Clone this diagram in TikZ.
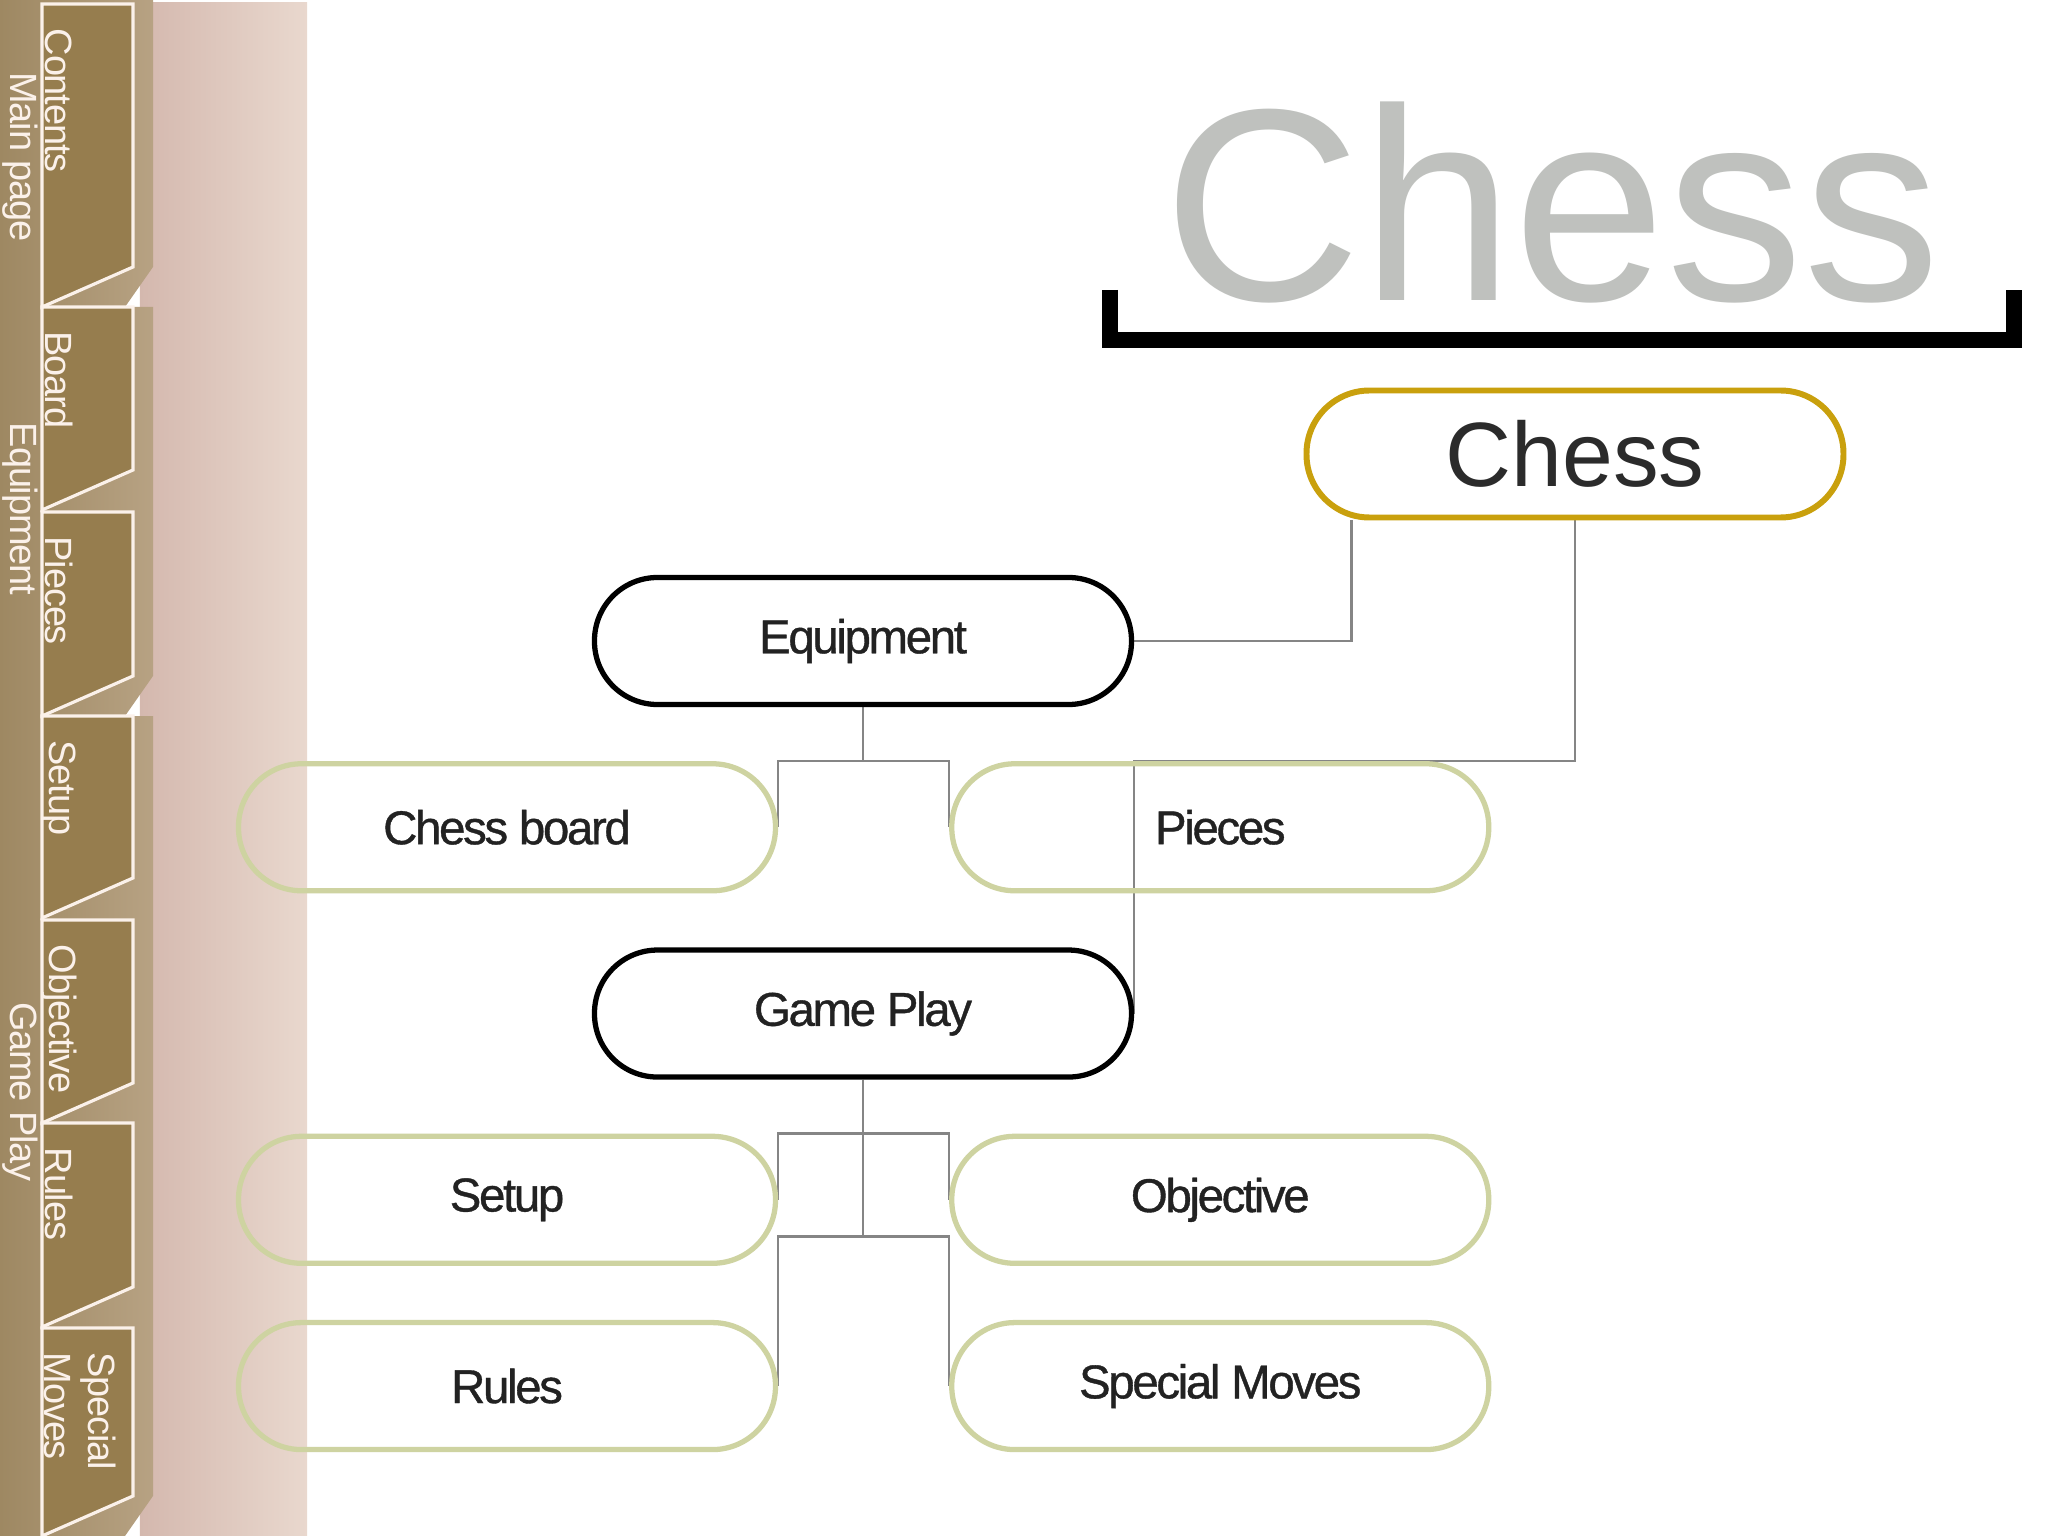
\documentclass[tikz,border=0pt]{standalone}
\usepackage{fontspec}
\setmainfont{Liberation Sans}
\newfontfamily\tightfont[LetterSpace=-5,FakeBold=0.8]{Liberation Sans}
\newfontfamily\tabfont[LetterSpace=-3]{Liberation Sans}
\usepackage{xcolor}
\usepackage{tikz}
\usetikzlibrary{positioning,calc}

\definecolor{titlegray}{HTML}{BFC1BE}
\definecolor{roottext}{HTML}{2B2B2B}
\definecolor{labeltext}{HTML}{222222}
\definecolor{rootgold}{HTML}{C9A00D}
\definecolor{leafgreen}{HTML}{CED3A1}
\definecolor{linkgray}{HTML}{858585}
\definecolor{pinkleft}{HTML}{D4B8AE}
\definecolor{pinkright}{HTML}{E9D8CE}
\definecolor{grpleft}{HTML}{9E8862}
\definecolor{grpright}{HTML}{B7A283}
\definecolor{tabbrown}{HTML}{967D4E}
\definecolor{tabcream}{HTML}{FBF1EA}

\pgfdeclarelayer{bg}
\pgfdeclarelayer{links}
\pgfsetlayers{bg,links,main}

\begin{document}
\begin{tikzpicture}[
  node distance=5.4mm and 17.1mm,
  topicnode/.style={draw=black,line width=1.5pt,rounded corners=6.3mm,minimum width=5.37cm,minimum height=1.27cm,inner sep=0pt,font=\tightfont\fontsize{13.5}{16}\selectfont,text=labeltext},
  leafnode/.style={topicnode,draw=leafgreen},
  rootnode/.style={topicnode,draw=rootgold,line width=1.7pt,font=\fontsize{26}{30}\selectfont,text=roottext},
  linkline/.style={draw=linkgray,line width=0.7pt},
  tablabel/.style={rotate=-90,anchor=west,inner sep=0pt,align=left,text=tabcream,font=\tabfont\fontsize{10.8}{12.5}\selectfont}
]
\useasboundingbox (0,0) rectangle (20.48,-15.36);

\node[font=\fontsize{78}{88}\selectfont,text=titlegray,anchor=base,inner sep=0pt] (heading) at (15.52,-3.01) {Chess};
\draw[line width=4.6pt] (11.10,-2.90) -- (11.10,-3.40) -- (20.14,-3.40) -- (20.14,-2.90);

\node[rootnode] (chess) at (15.75,-4.54) {Chess};
\node[topicnode] (equipment) at (8.63,-6.41) {Equipment};
\node[leafnode, below=of equipment, xshift=-35.6mm] (board) {Chess board};
\node[leafnode, right=of board] (pieces) {Pieces};
\node[topicnode, below=of board, xshift=35.6mm] (gameplay) {Game Play};
\node[leafnode, below=of gameplay, xshift=-35.6mm] (setup) {Setup};
\node[leafnode, right=of setup] (objective) {Objective};
\node[leafnode, below=of setup] (rules) {Rules};
\node[leafnode, right=of rules] (special) {Special Moves};

\begin{pgfonlayer}{links}
\draw[linkline] ([xshift=4.8mm]chess.south west) |- (equipment.east);
\draw[linkline] (chess.south) -- (chess.south |- pieces.north) -| (gameplay.east);
\draw[linkline] (equipment.south) -- (equipment.south |- board.north);
\draw[linkline] (board.east) |- (equipment.south |- board.north) -| (pieces.west);
\draw[linkline] (gameplay.south) -- ++(0,-15.7mm) coordinate (lowbar);
\draw[linkline] (setup.east) |- (gameplay.south |- setup.north) -| (objective.west);
\draw[linkline] (rules.east) |- (lowbar) -| (special.west);
\end{pgfonlayer}

\begin{pgfonlayer}{bg}
\fill[white] (0,0) rectangle (20.48,-15.36);
\shade[left color=pinkleft,right color=pinkright] (1.40,-0.03) rectangle (3.07,-15.36);
\foreach \grptop/\grpbot/\grpmid/\grpname [count=\j] in {0/3.07/1.57/Main page, 3.07/7.16/5.09/Equipment, 7.16/15.36/10.92/Game Play}
{
  \shade[left color=grpleft,right color=grpright] (0,-\grptop) -- (1.53,-\grptop) -- (1.53,-\grpbot+0.40) -- (1.25,-\grpbot) -- (0,-\grpbot) -- cycle;
  \node[tablabel,anchor=center] (group\j) at (0.20,-\grpmid) {\grpname};
}
\foreach \tabtop/\tabbot/\tabx/\tabname [count=\i] in {0.04/3.07/0.59/Contents, 3.07/5.10/0.59/Board, 5.12/7.16/0.59/Pieces, 7.16/9.18/0.59/Setup, 9.20/11.23/0.59/Objective, 11.23/13.27/0.59/Rules, 13.28/15.36/0.80/{Special\\Moves}}
{
  \filldraw[fill=tabbrown,draw=tabcream,line width=0.9pt] (0.42,-\tabtop) -- (1.33,-\tabtop) -- (1.33,-\tabbot+0.40) -- (0.42,-\tabbot) -- cycle;
  \node[tablabel] (tab\i) at (\tabx,-\tabtop-0.24) {\tabname};
}
\end{pgfonlayer}
\end{tikzpicture}
\end{document}
